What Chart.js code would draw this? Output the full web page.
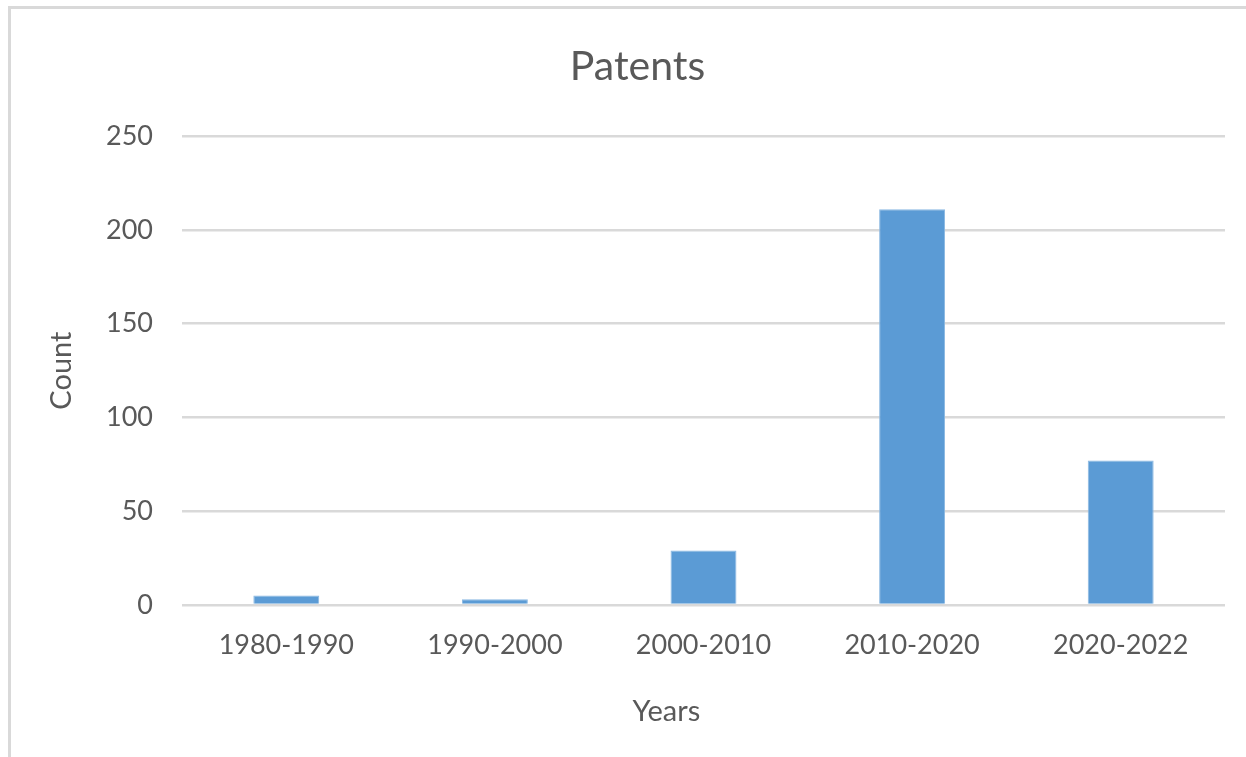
<!DOCTYPE html>
<html>
<head>
<meta charset="utf-8">
<script src="https://cdn.jsdelivr.net/npm/chart.js@4"></script>
<style>
  html, body { margin: 0; padding: 0; background: #fff; overflow: hidden; }
  #frame {
    position: absolute; left: 8px; top: 6px;
    width: 1400px; height: 900px;
    border: 3px solid #d9d9d9; box-sizing: border-box;
  }
  /* canvas runs a bit past the window on the right, like the original chart box */
  #wrap { position: absolute; left: 0; top: 0; width: 1275px; height: 757px; }
</style>
</head>
<body>
<div id="frame"></div>
<div id="wrap"><canvas id="myChart" width="1275" height="757"></canvas></div>
<script>
// chart data
const categories = ['1980-1990', '1990-2000', '2000-2010', '2010-2020', '2020-2022'];
const patentCounts = [5, 3, 29, 211, 77];
const yTicks = [0, 50, 100, 150, 200, 250];

const textColor = '#595959';
const fontName = 'Lato, "Open Sans", sans-serif';

const ctx = document.getElementById('myChart').getContext('2d');
const myChart = new Chart(ctx, {
    type: 'bar',
    data: {
        labels: categories,
        datasets: [{
            label: 'Count',
            data: patentCounts,
            backgroundColor: '#5b9bd5',
            borderColor: '#8ab8e2',
            borderWidth: 1,
            categoryPercentage: 1,
            barPercentage: 0.316
        }]
    },
    options: {
        responsive: false,
        animation: false,
        layout: { padding: 0 },
        plugins: {
            legend: { display: false },
            tooltip: { enabled: false },
            title: {
                display: true,
                text: 'Patents',
                color: textColor,
                font: { family: fontName, size: 41, weight: 'normal' },
                padding: { top: 42, bottom: 45 }
            }
        },
        scales: {
            x: {
                grid: { display: false, drawTicks: false },
                border: { display: false },
                ticks: {
                    color: textColor,
                    font: { family: fontName, size: 27 },
                    padding: 24,
                    maxRotation: 0
                },
                title: {
                    display: true,
                    // trailing spaces nudge the title left, as in the original
                    text: 'Years          ',
                    color: textColor,
                    font: { family: fontName, size: 29 },
                    padding: { top: 0, bottom: 28 }
                },
                afterFit: function (scale) { scale.height = 152; }
            },
            y: {
                min: 0,
                max: 250,
                afterBuildTicks: function (scale) {
                    scale.ticks = yTicks.map(v => ({ value: v }));
                },
                grid: { color: '#d9d9d9', lineWidth: 2.5, drawTicks: false },
                border: { display: false },
                ticks: {
                    color: textColor,
                    font: { family: fontName, size: 27 },
                    padding: 29
                },
                title: {
                    display: true,
                    text: 'Count',
                    color: textColor,
                    font: { family: fontName, size: 29 },
                    padding: { top: 44, bottom: 0 }
                },
                afterFit: function (scale) { scale.width = 182; }
            },
            // empty right-hand spacer so the plot stops short of the edge
            spacer: {
                type: 'linear',
                position: 'right',
                grid: { display: false, drawTicks: false },
                border: { display: false },
                ticks: { display: false },
                afterFit: function (scale) { scale.width = 50; }
            }
        }
    }
});
</script>
</body>
</html>
